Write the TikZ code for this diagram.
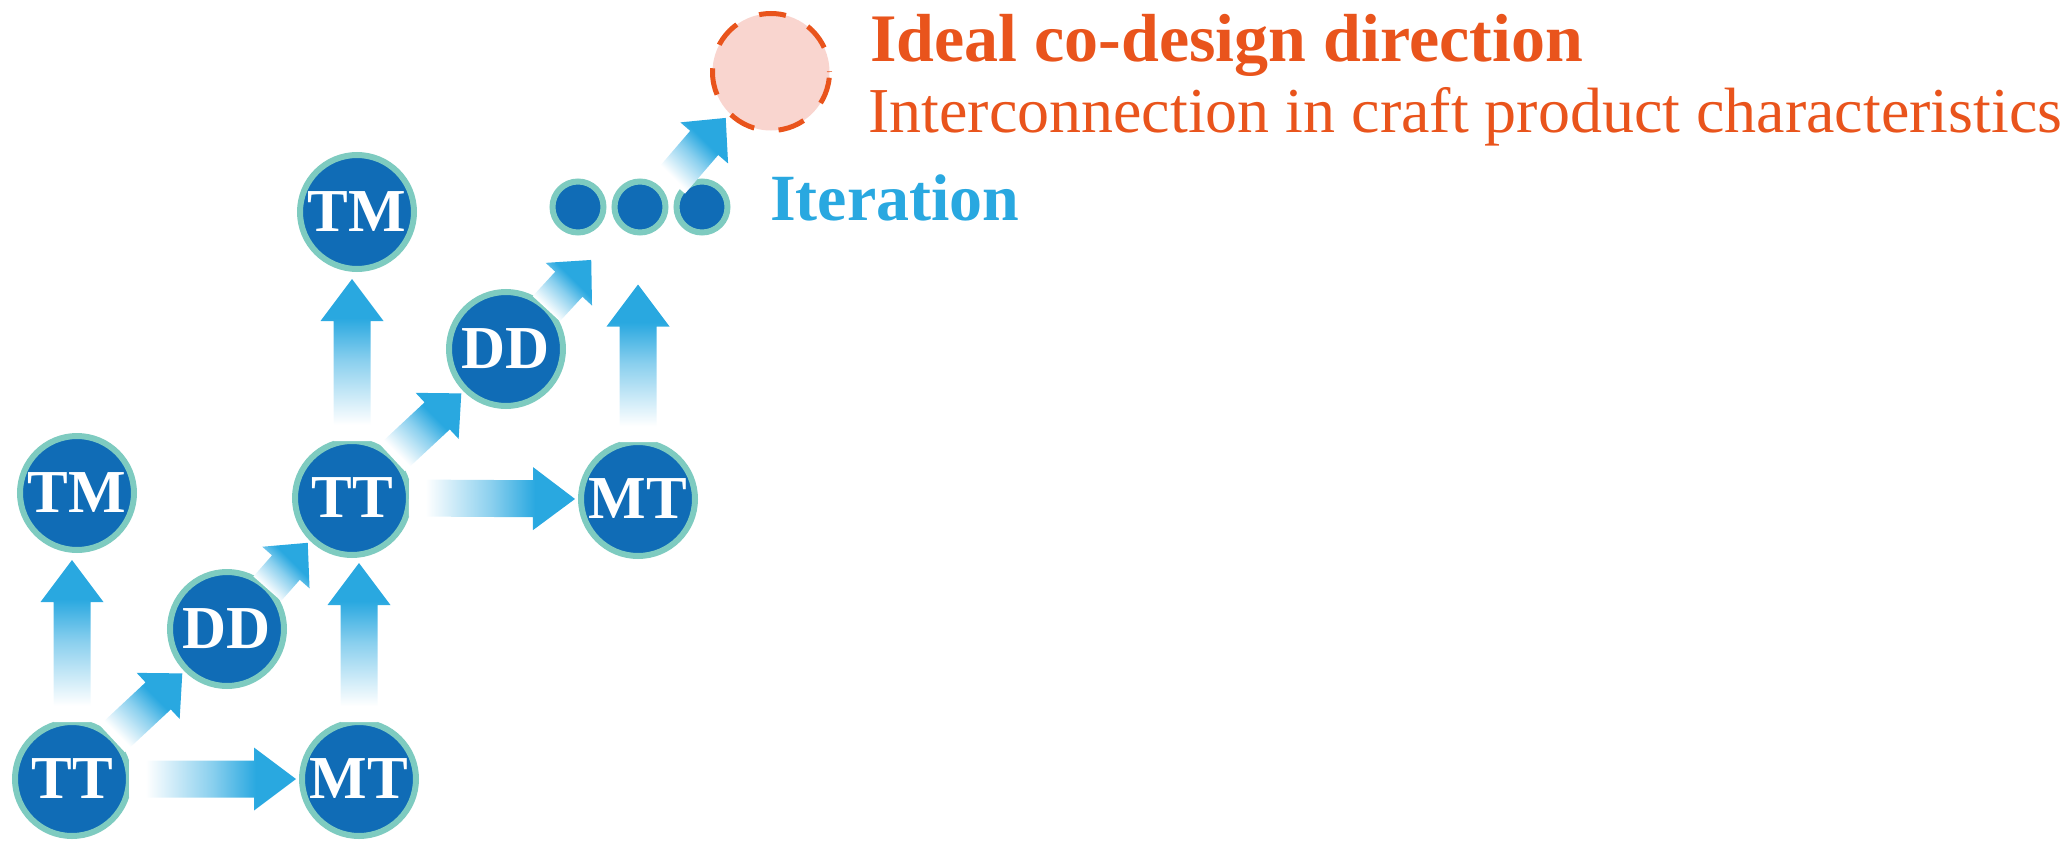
\documentclass[tikz,border=0pt]{standalone}
\usepackage{fontspec}
\setmainfont{Liberation Serif}
\usetikzlibrary{calc}
\definecolor{deep}{RGB}{16, 108, 182}
\definecolor{ring}{RGB}{126, 203, 192}
\definecolor{sky}{RGB}{41, 168, 224}
\definecolor{flame}{RGB}{233, 84, 28}
\definecolor{blush}{RGB}{249, 213, 207}
\pgfdeclareverticalshading{fade}{100bp}{color(0bp)=(white); color(30bp)=(white);
  color(50bp)=(sky!55); color(63bp)=(sky); color(100bp)=(sky)}

% fat arrow: [gap before target] {tail} {target} {shading angle}
\def\fahead{42pt}
\newcommand{\fatarrow}[4][6pt]{%
  \coordinate (fa-t) at (#2);
  \coordinate (fa-p) at ($(#3)!#1!(fa-t)$);
  \coordinate (fa-b) at ($(fa-p)!\fahead!(fa-t)$);
  \shade[shading=fade, shading angle=#4]
    ($(fa-t)!18.5pt!90:(fa-p)$) -- ($(fa-b)!18.5pt!90:(fa-p)$) -- ($(fa-b)!31.5pt!90:(fa-p)$) -- (fa-p)
    -- ($(fa-b)!31.5pt!-90:(fa-p)$) -- ($(fa-b)!18.5pt!-90:(fa-p)$) -- ($(fa-t)!18.5pt!-90:(fa-p)$) -- cycle;
}

\begin{document}
\begin{tikzpicture}[x=1pt, y=-1pt,
  stage/.style={circle, fill=deep, draw=ring, line width=6pt, minimum size=114pt,
    inner sep=0pt, outer sep=0pt, text=white, font=\fontsize{61}{61}\selectfont\bfseries},
  dot/.style={circle, fill=deep, draw=ring, line width=6pt, minimum size=51pt,
    inner sep=0pt, outer sep=0pt},
  label/.style={anchor=base west, inner sep=0pt}]
  \useasboundingbox (0, 0) rectangle (2069, 851);

  % first round
  \node[stage] (tt1) at (72, 779) {TT};
  \node[stage] (mt1) at (359, 779) {MT};
  \node[stage] (dd1) at (227, 629) {DD};
  \node[stage] (tm1) at (77, 493) {TM};

  % second round
  \node[stage] (tt2) at (352, 498) {TT};
  \node[stage] (mt2) at (638, 499) {MT};
  \node[stage] (dd2) at (506, 349) {DD};
  \node[stage] (tm2) at (357, 212) {TM};

  % iteration
  \node[dot] (dot1) at (578, 207) {};
  \node[dot] (dot2) at (640, 207) {};
  \node[dot] (dot3) at (702, 207) {};
  \node[label, text=sky, font=\fontsize{66}{66}\selectfont\bfseries] (iter) at (770, 220) {Iteration};

  \node[circle, minimum size=117pt, fill=blush, draw=flame, line width=5pt,
    dash pattern=on 27pt off 24.6pt, dash phase=26.4pt, inner sep=0pt, outer sep=0pt] (ideal) at (771, 72) {};
  \node[label, text=flame, font=\fontsize{68}{68}\selectfont\bfseries] (idealtitle) at (870, 62)
    {Ideal co-design direction};
  \node[label, text=flame, font=\fontsize{64}{64}\selectfont] (idealtext) at (868, 132)
    {Interconnection in craft product characteristics};

  \fatarrow{tt1.east}{mt1.west}{-90}
  \fatarrow[10pt]{tt1.north}{tt1.north |- tm1.south}{0}
  \fatarrow[8pt]{mt1.north}{mt1.north |- tt2.south}{0}
  \fatarrow{tt2.east}{mt2.west}{-90}
  \fatarrow[10pt]{tt2.north}{tt2.north |- tm2.south}{0}
  \fatarrow[52pt]{mt2.north}{mt2.north |- dot2.south}{0}

  % diagonal ones have a shorter head
  \def\fahead{33pt}
  \fatarrow{tt1.45}{dd1.225}{-45}
  \fatarrow{dd1.45}{tt2.225}{-45}
  \fatarrow{tt2.45}{dd2.225}{-45}
  \fatarrow[72pt]{dd2.45}{dot2}{-45}
  \coordinate (gap) at ($(dot2.north)!0.5!(dot3.north)$);
  \fatarrow{gap}{ideal.225}{-45}
\end{tikzpicture}
\end{document}
